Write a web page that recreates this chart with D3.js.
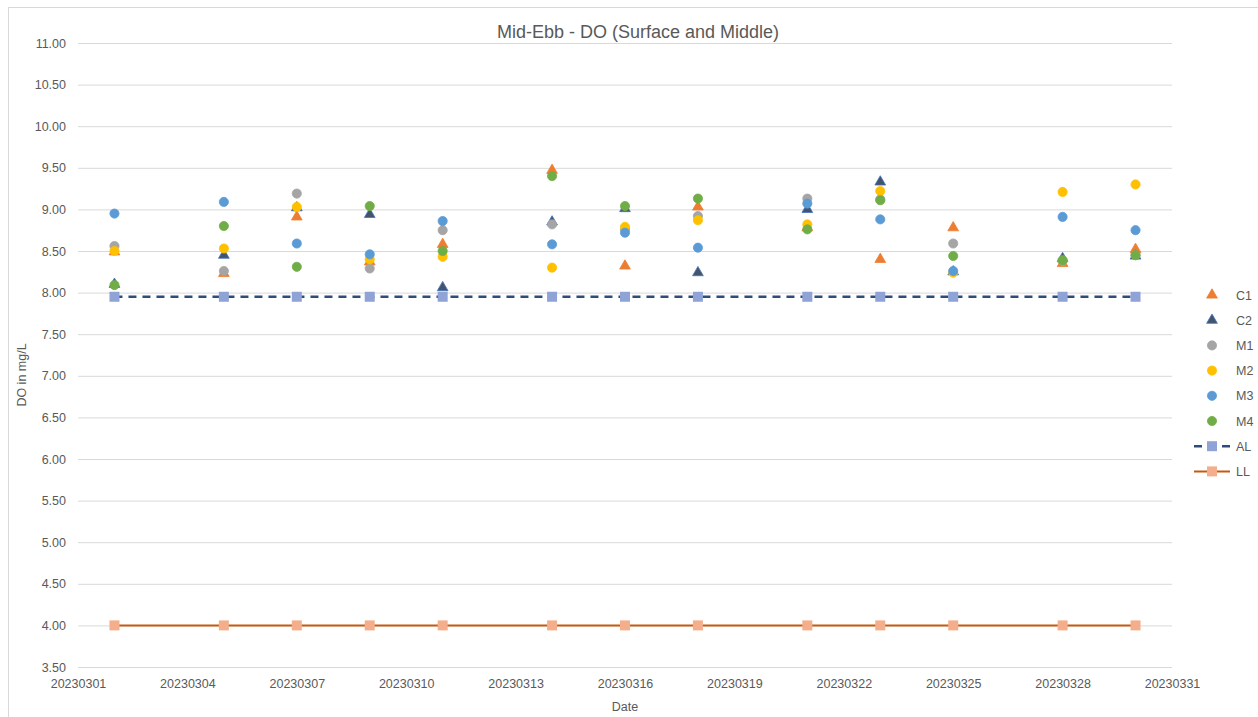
<!DOCTYPE html>
<html>
<head>
<meta charset="utf-8">
<script src="https://cdn.jsdelivr.net/npm/d3@7"></script>
<style>
  body { margin: 0; background: #fff; }
  text { font-family: "Liberation Sans", Arial, sans-serif; fill: #595959; }
</style>
</head>
<body>
<svg id="chart" width="1258" height="717"></svg>
<script>
// sampling dates and values
const dates = ["20230302", "20230305", "20230307", "20230309", "20230311", "20230314", "20230316",
               "20230318", "20230321", "20230323", "20230325", "20230328", "20230330"];
const C1 = [8.49, 8.23, 8.91, 8.37, 8.58, 9.47, 8.32, 9.03, 8.78, 8.40, 8.78, 8.35, 8.52];
const C2 = [8.10, 8.45, 9.02, 8.94, 8.06, 8.85, 9.01, 8.24, 9.00, 9.33, 8.25, 8.41, 8.44];
const M1 = [8.56, 8.26, 9.19, 8.29, 8.75, 8.82, 8.76, 8.92, 9.13, 9.12, 8.59, 8.38, 8.45];
const M2 = [8.50, 8.53, 9.03, 8.40, 8.43, 8.30, 8.79, 8.87, 8.82, 9.22, 8.24, 9.21, 9.30];
const M3 = [8.95, 9.09, 8.59, 8.46, 8.86, 8.58, 8.72, 8.54, 9.07, 8.88, 8.26, 8.91, 8.75];
const M4 = [8.09, 8.80, 8.31, 9.04, 8.50, 9.40, 9.04, 9.13, 8.76, 9.11, 8.44, 8.39, 8.45];
const AL = [7.95, 7.95, 7.95, 7.95, 7.95, 7.95, 7.95, 7.95, 7.95, 7.95, 7.95, 7.95, 7.95];
const LL = [4.00, 4.00, 4.00, 4.00, 4.00, 4.00, 4.00, 4.00, 4.00, 4.00, 4.00, 4.00, 4.00];
const xTicks = ["20230301", "20230304", "20230307", "20230310", "20230313", "20230316",
                "20230319", "20230322", "20230325", "20230328", "20230331"];
const yTicks = [3.5, 4, 4.5, 5, 5.5, 6, 6.5, 7, 7.5, 8, 8.5, 9, 9.5, 10, 10.5, 11];

const parse = d3.timeParse("%Y%m%d");
const fmt = d3.timeFormat("%Y%m%d");

const svg = d3.select("#chart");
const plotL = 78, plotR = 1172, plotT = 43, plotB = 667;

const x = d3.scaleTime()
    .domain([parse(xTicks[0]), parse(xTicks[xTicks.length - 1])])
    .range([plotL, plotR]);
const y = d3.scaleLinear().domain([3.5, 11]).range([plotB, plotT]);

// chart border
svg.append("rect")
    .attr("x", 8.5).attr("y", 7.5)
    .attr("width", 1260).attr("height", 720)
    .attr("fill", "none").attr("stroke", "#d9d9d9");

// horizontal grid + y labels
const yAxis = svg.append("g")
    .attr("transform", `translate(${plotL},0)`)
    .call(d3.axisLeft(y).tickValues(yTicks).tickFormat(d3.format(".2f"))
        .tickSize(-(plotR - plotL)).tickPadding(12));
yAxis.select(".domain").remove();
yAxis.selectAll("line").attr("stroke", "#d9d9d9");
yAxis.selectAll("text").style("font-size", "12.5px").attr("fill", "#595959");

// x labels
const xAxis = svg.append("g")
    .attr("transform", `translate(0,${plotB})`)
    .call(d3.axisBottom(x).tickValues(xTicks.map(parse)).tickFormat(fmt)
        .tickSize(0).tickPadding(12));
xAxis.select(".domain").remove();
xAxis.selectAll("text").style("font-size", "12.5px").attr("fill", "#595959");

// series styles
const scatter = [
  { name: "C1", vals: C1, shape: d3.symbolTriangle, size: 50, fill: "#ED7D31", stroke: "#ED7D31" },
  { name: "C2", vals: C2, shape: d3.symbolTriangle, size: 50, fill: "#44546A", stroke: "#4472C4" },
  { name: "M1", vals: M1, shape: d3.symbolCircle, size: 66, fill: "#A5A5A5", stroke: "#A5A5A5" },
  { name: "M2", vals: M2, shape: d3.symbolCircle, size: 66, fill: "#FFC000", stroke: "#FFC000" },
  { name: "M3", vals: M3, shape: d3.symbolCircle, size: 66, fill: "#5B9BD5", stroke: "#5B9BD5" },
  { name: "M4", vals: M4, shape: d3.symbolCircle, size: 66, fill: "#70AD47", stroke: "#70AD47" }
];
const lines = [
  { name: "AL", vals: AL, line: "#2F4B7C", dash: "8,6", width: 2.5, fill: "#8FA3D6" },
  { name: "LL", vals: LL, line: "#C55A11", dash: null, width: 2, fill: "#F4AE8C" }
];

scatter.forEach(s => {
  svg.append("g").selectAll("path")
    .data(s.vals)
    .join("path")
    .attr("transform", (d, i) => `translate(${x(parse(dates[i]))},${y(d)})`)
    .attr("d", d3.symbol(s.shape, s.size))
    .attr("fill", s.fill)
    .attr("stroke", s.stroke)
    .attr("stroke-width", 0.8);
});

lines.forEach(s => {
  const line = d3.line().x((d, i) => x(parse(dates[i]))).y(d => y(d));
  svg.append("path")
    .datum(s.vals)
    .attr("d", line)
    .attr("fill", "none")
    .attr("stroke", s.line)
    .attr("stroke-width", s.width)
    .attr("stroke-dasharray", s.dash);
  svg.append("g").selectAll("rect")
    .data(s.vals)
    .join("rect")
    .attr("x", (d, i) => x(parse(dates[i])) - 5)
    .attr("y", d => y(d) - 5)
    .attr("width", 10).attr("height", 10)
    .attr("fill", s.fill);
});

// title and axis titles
svg.append("text")
    .attr("x", 638).attr("y", 38)
    .attr("text-anchor", "middle")
    .style("font-size", "18px")
    .text("Mid-Ebb - DO (Surface and Middle)");

svg.append("text")
    .attr("transform", "translate(26,375) rotate(-90)")
    .attr("text-anchor", "middle")
    .style("font-size", "12.5px")
    .text("DO in mg/L");

svg.append("text")
    .attr("x", 625).attr("y", 711)
    .attr("text-anchor", "middle")
    .style("font-size", "12.5px")
    .text("Date");

// legend
const lg = svg.append("g").attr("transform", "translate(1212,295)");
scatter.forEach((s, i) => {
  const row = lg.append("g").attr("transform", `translate(0,${i * 25.2})`);
  row.append("path")
    .attr("d", d3.symbol(s.shape, s.size))
    .attr("fill", s.fill).attr("stroke", s.stroke).attr("stroke-width", 0.8);
  row.append("text").attr("x", 24).attr("y", 4.5)
    .style("font-size", "12.5px").text(s.name);
});
lines.forEach((s, j) => {
  const row = lg.append("g").attr("transform", `translate(0,${(scatter.length + j) * 25.2})`);
  row.append("line")
    .attr("x1", -18).attr("x2", 18)
    .attr("stroke", s.line).attr("stroke-width", s.width)
    .attr("stroke-dasharray", s.dash ? "8,20" : null);
  row.append("rect").attr("x", -5).attr("y", -5).attr("width", 10).attr("height", 10)
    .attr("fill", s.fill);
  row.append("text").attr("x", 24).attr("y", 4.5)
    .style("font-size", "12.5px").text(s.name);
});
</script>
</body>
</html>
